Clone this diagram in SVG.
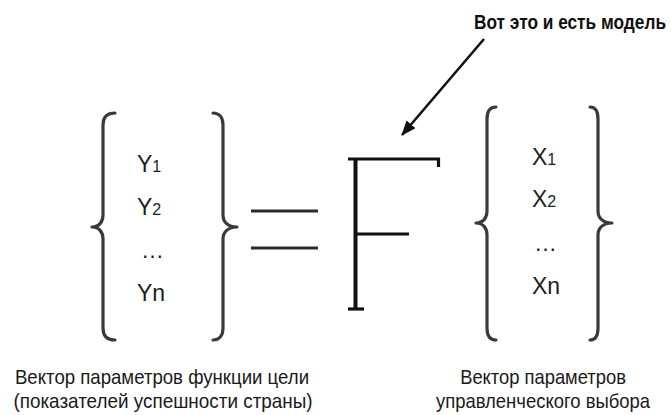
<svg xmlns="http://www.w3.org/2000/svg" width="671" height="415" viewBox="0 0 671 415">
<style>
.brace{fill:none;stroke:#3a3a3a;stroke-width:3.2;stroke-linecap:round;stroke-linejoin:round}
.var{font-family:"Liberation Sans",Arial,sans-serif;font-size:23px;fill:#1e1e1e}
.sub{font-size:16px}
.cap{font-family:"Liberation Sans",Arial,sans-serif;font-size:21px;fill:#1a1a1a;text-anchor:middle}
.title{font-family:"Liberation Sans",Arial,sans-serif;font-size:21px;font-weight:bold;fill:#111}
.eq{stroke:#2a2a2a;stroke-width:3}
.f{stroke:#111;fill:none;stroke-linecap:butt}
</style>
<defs>
<marker id="ah" markerUnits="userSpaceOnUse" markerWidth="15" markerHeight="12" refX="14" refY="6" orient="auto">
<path d="M0,0 L15,6 L0,12 z" fill="#111"/>
</marker>
</defs>
<rect width="671" height="415" fill="#fff"/>

<g id="title">
<text class="title" transform="translate(474,29) scale(0.8,1)" x="0" y="0" textLength="240" lengthAdjust="spacingAndGlyphs">Вот это и есть модель</text>
</g>

<g id="connectors">
<line x1="484" y1="39" x2="402" y2="135" stroke="#111" stroke-width="2.6" marker-end="url(#ah)"/>
</g>

<g id="vector-y">
<path class="brace" d="M115,113 C107,113 103,117 103,125 L103,215 C103,222 99,227 92,227 C99,227 103,232 103,239 L103,328 C103,336 107,340 115,340"/>
<path class="brace" d="M213,113 C219,113 223,117 223,125 L223,215 C223,222 228,227 237,227 C228,227 223,232 223,239 L223,328 C223,336 219,340 213,340"/>
<text class="var" x="137" y="172">Y<tspan class="sub">1</tspan></text>
<text class="var" x="137" y="215">Y<tspan class="sub">2</tspan></text>
<text class="var" x="141" y="258">…</text>
<text class="var" x="137" y="301">Yn</text>
</g>

<g id="equals">
<line class="eq" x1="251" y1="211" x2="318" y2="211"/>
<line class="eq" x1="251" y1="248" x2="318" y2="248"/>
</g>

<g id="F">
<line class="f" x1="355.5" y1="158" x2="355.5" y2="310" stroke-width="4"/>
<polyline class="f" points="348,159 438.5,159 438.5,167" stroke-width="3.2"/>
<line class="f" x1="355" y1="234" x2="409" y2="234" stroke-width="3"/>
<line class="f" x1="348" y1="309" x2="364" y2="309" stroke-width="3.2"/>
</g>

<g id="vector-x">
<path class="brace" d="M496,107 C490,107 487,111 487,119 L487,211 C487,218 483,223 476,223 C483,223 487,228 487,235 L487,328 C487,336 490,340 496,340"/>
<path class="brace" d="M590,107 C595,107 598,111 598,119 L598,211 C598,218 603,223 612,223 C603,223 598,228 598,235 L598,328 C598,336 595,340 590,340"/>
<text class="var" x="532" y="165">X<tspan class="sub">1</tspan></text>
<text class="var" x="532" y="207">X<tspan class="sub">2</tspan></text>
<text class="var" x="534" y="251">…</text>
<text class="var" x="532" y="294">Xn</text>
</g>

<g id="caption-left">
<text class="cap" transform="translate(162,0) scale(0.85,1)" x="0" y="384" textLength="346" lengthAdjust="spacingAndGlyphs">Вектор параметров функции цели</text>
<text class="cap" transform="translate(163,0) scale(0.85,1)" x="0" y="408" textLength="352" lengthAdjust="spacingAndGlyphs">(показателей успешности страны)</text>
</g>

<g id="caption-right">
<text class="cap" transform="translate(543,0) scale(0.85,1)" x="0" y="384" textLength="195" lengthAdjust="spacingAndGlyphs">Вектор параметров</text>
<text class="cap" transform="translate(543,0) scale(0.85,1)" x="0" y="408" textLength="252" lengthAdjust="spacingAndGlyphs">управленческого выбора</text>
</g>
</svg>
